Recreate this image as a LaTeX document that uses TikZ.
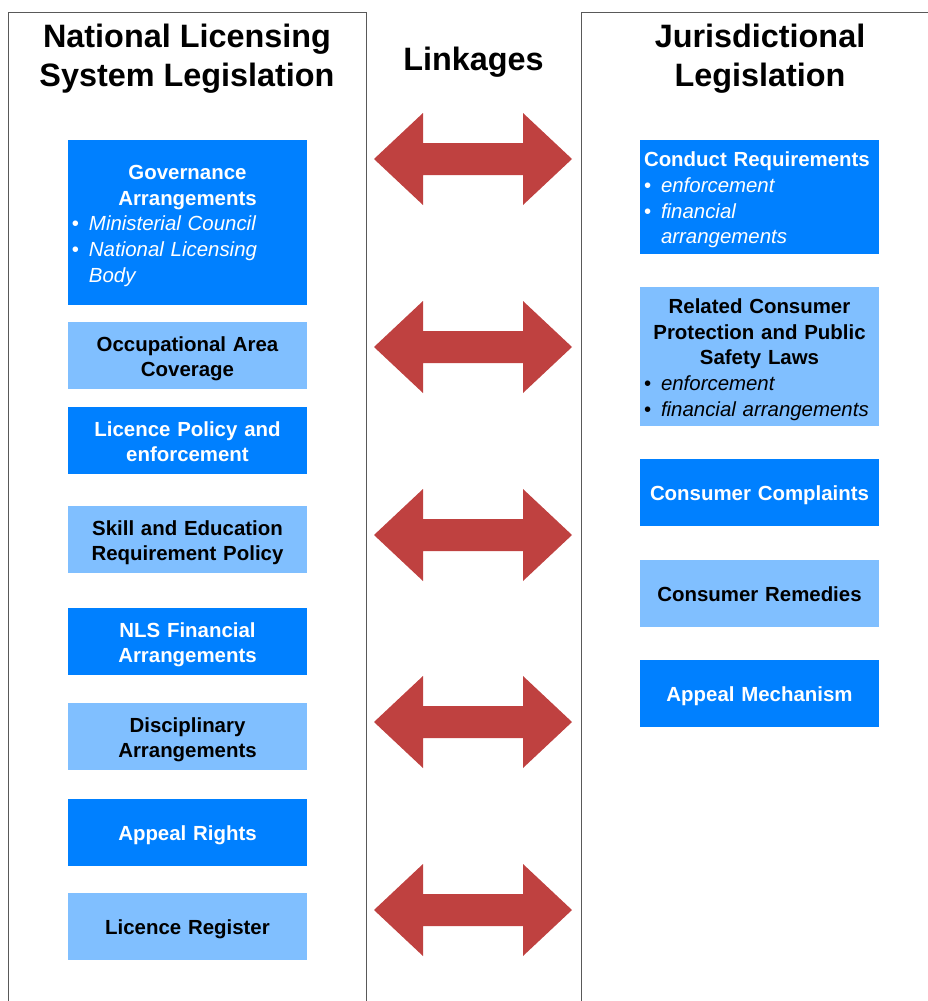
\documentclass[tikz,border=0pt]{standalone}
\usepackage{fontspec}
\setmainfont{Liberation Sans}
\usepackage{tikz}
\usetikzlibrary{positioning}

\definecolor{boxdark}{RGB}{0,128,255}
\definecolor{boxlight}{RGB}{128,191,255}
\definecolor{linkred}{RGB}{191,65,64}
\newcommand\bulletline[1]{\makebox[17bp][l]{\mdseries\textbullet}{\mdseries\itshape #1}}
\newcommand\topstrut{\rule{0pt}{21bp}}
\newcommand\bottomstrut{\rule[-4.4bp]{0pt}{4.4bp}}

\begin{document}
\begin{tikzpicture}
      [x=1bp,y=-1bp,
       panel/.style={draw=black!65,line width=1bp},
       heading/.style={font=\fontsize{32.5}{39}\selectfont\bfseries,align=center,inner sep=0pt},
       box/.style={rectangle,minimum width=239bp,minimum height=67bp,inner xsep=4bp,inner ysep=0bp,
         outer sep=0pt,font=\fontsize{20.5}{25.7}\selectfont\bfseries,text width=231bp,align=center,
         execute at begin node=\topstrut,execute at end node=\bottomstrut},
       darkbox/.style={box,fill=boxdark,text=white},
       lightbox/.style={box,fill=boxlight,text=black},
       listbox/.style={align=left},
       linkage/.pic={\fill[linkred] (-99,0) -- (-50,-46) -- (-50,-16) -- (50,-16) -- (50,-46)
         -- (99,0) -- (50,46) -- (50,16) -- (-50,16) -- (-50,46) -- cycle;}]
      \useasboundingbox (0,0) rectangle (928,1001);
      % panels
      \draw[panel] (8,1010) -- (8,12) -- (366,12) -- (366,1010);
      \draw[panel] (581,1010) -- (581,12) -- (940,12);
      % headings
      \node[heading] (nlstitle) at (187,59) {National Licensing\\System Legislation};
      \node[heading] (linktitle) at (473.5,62) {Linkages};
      \node[heading] (jurtitle) at (760,59) {Jurisdictional\\Legislation};
      % national licensing system
      \node[darkbox,listbox,minimum height=165bp,anchor=north] (governance) at (187.5,140)
        {\makebox[231bp]{Governance}\\ \makebox[231bp]{Arrangements}\\
         \bulletline{Ministerial Council}\\ \bulletline{National Licensing}\\
         \hspace*{17bp}{\mdseries\itshape Body}};
      \node[lightbox] (coverage) [below=17bp of governance] {Occupational Area\\Coverage};
      \node[darkbox] (policy) [below=18bp of coverage] {Licence Policy and\\enforcement};
      \node[lightbox] (skill) [below=32bp of policy] {Skill and Education\\Requirement Policy};
      \node[darkbox] (finance) [below=35bp of skill] {NLS Financial\\Arrangements};
      \node[lightbox] (discipline) [below=28bp of finance] {Disciplinary\\Arrangements};
      \node[darkbox] (appeal) [below=29bp of discipline] {Appeal Rights};
      \node[lightbox] (register) [below=27bp of appeal] {Licence Register};
      % jurisdictional legislation
      \node[darkbox,listbox,minimum height=114bp,anchor=north] (conduct) at (759.5,140)
        {Conduct Requirements\\ \bulletline{enforcement}\\ \bulletline{financial}\\
         \hspace*{17bp}{\mdseries\itshape arrangements}};
      \node[lightbox,listbox,minimum height=139bp] (related) [below=33bp of conduct]
        {\makebox[231bp]{Related Consumer}\\ \makebox[231bp]{Protection and Public}\\
         \makebox[231bp]{Safety Laws}\\ \bulletline{enforcement}\\
         \bulletline{financial arrangements}};
      \node[darkbox] (complaints) [below=33bp of related] {Consumer Complaints};
      \node[lightbox] (remedies) [below=34bp of complaints] {Consumer Remedies};
      \node[darkbox] (mechanism) [below=33bp of remedies] {Appeal Mechanism};
      % linkages
      \pic (link1) at (473,159) {linkage};
      \pic (link2) at (473,347) {linkage};
      \pic (link3) at (473,535) {linkage};
      \pic (link4) at (473,722) {linkage};
      \pic (link5) at (473,910) {linkage};
    \end{tikzpicture}
\end{document}
